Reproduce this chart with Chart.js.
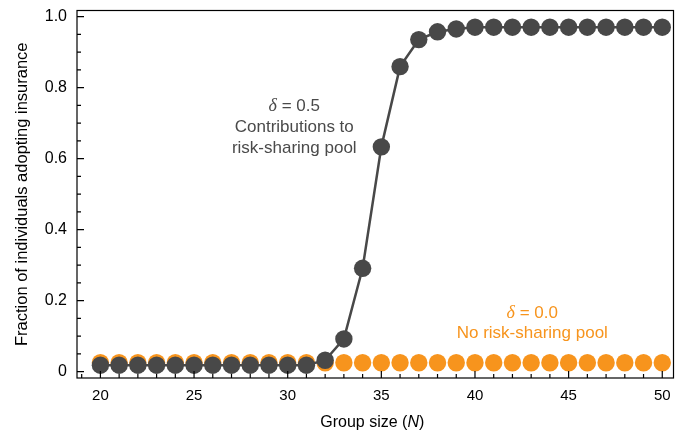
<!DOCTYPE html>
<html><head><meta charset="utf-8">
<script src="https://cdn.jsdelivr.net/npm/chart.js@4.4.1/dist/chart.umd.min.js"></script>
<style>html,body{margin:0;padding:0;background:#fff;} canvas{display:block;}</style>
</head><body>
<canvas id="c" width="684" height="433"></canvas>
<script>
// ---- data ----
const groupSizes = [20,21,22,23,24,25,26,27,28,29,30,31,32,33,34,35,36,37,38,39,40,41,42,43,44,45,46,47,48,49,50];
const withPool = [0.018,0.018,0.018,0.018,0.018,0.018,0.018,0.018,0.018,0.018,0.018,0.018,
                  0.032,0.092,0.291,0.633,0.859,0.935,0.957,0.965,
                  0.970,0.970,0.970,0.970,0.970,0.970,0.970,0.970,0.970,0.970,0.970];
const noPool = [0.025,0.025,0.025,0.025,0.025,0.025,0.025,0.025,0.025,0.025,0.025,0.025,
                0.025,0.025,0.025,0.025,0.025,0.025,0.025,0.025,0.025,0.025,0.025,0.025,
                0.025,0.025,0.025,0.025,0.025,0.025,0.025];
const xTickValues = [20,25,30,35,40,45,50];
const yTickValues = [0,0.2,0.4,0.6,0.8,1.0];
const yTickLabels = ['0','0.2','0.4','0.6','0.8','1.0'];

const DARK = '#484848';
const ORANGE = '#f7941d';
const SANS = '"Liberation Sans", Arial, Helvetica, sans-serif';
const SERIF = '"Liberation Serif", "Times New Roman", serif';

function drawMixed(ctx, parts, cx, cy, color) {
  let total = 0;
  parts.forEach(p => { ctx.font = p.f; p.w = ctx.measureText(p.t).width; total += p.w; });
  let x = cx - total / 2;
  ctx.fillStyle = color;
  ctx.textBaseline = 'middle';
  ctx.textAlign = 'left';
  parts.forEach(p => { ctx.font = p.f; ctx.fillText(p.t, x, cy); x += p.w; });
}

const decor = {
  id: 'decor',
  afterDraw(chart) {
    const {ctx, chartArea: {left, right, top, bottom}, scales: {x, y}} = chart;
    ctx.save();
    ctx.strokeStyle = '#000';
    ctx.lineWidth = 1.2;
    ctx.strokeRect(left, top, right - left, bottom - top);
    ctx.beginPath();
    for (let v = Math.ceil(x.min); v <= x.max; v++) {
      const px = x.getPixelForValue(v);
      const len = (v % 5 === 0) ? 7 : 4;
      ctx.moveTo(px, bottom); ctx.lineTo(px, bottom - len);
    }
    for (let i = 0; i <= 20; i++) {
      const py = y.getPixelForValue(i * 0.05);
      const len = (i % 4 === 0) ? 7 : 4;
      ctx.moveTo(left, py); ctx.lineTo(left + len, py);
    }
    ctx.stroke();

    // x axis title with italic N
    drawMixed(ctx, [
      {t: 'Group size (', f: '16px ' + SANS},
      {t: 'N', f: 'italic 16px ' + SANS},
      {t: ')', f: '16px ' + SANS}
    ], (left + right) / 2 - 3, 423, '#000');

    // annotations
    const ax = x.getPixelForValue(30.35), ay = y.getPixelForValue(0.746);
    drawMixed(ctx, [{t: 'δ', f: 'italic 18px ' + SERIF}, {t: ' = 0.5', f: '17px ' + SANS}], ax, ay, '#4a4a4a');
    drawMixed(ctx, [{t: 'Contributions to', f: '17px ' + SANS}], ax, ay + 21, '#4a4a4a');
    drawMixed(ctx, [{t: 'risk-sharing pool', f: '17px ' + SANS}], ax, ay + 42, '#4a4a4a');

    const bx = x.getPixelForValue(43.06), by = y.getPixelForValue(0.164);
    drawMixed(ctx, [{t: 'δ', f: 'italic 18px ' + SERIF}, {t: ' = 0.0', f: '17px ' + SANS}], bx, by, ORANGE);
    drawMixed(ctx, [{t: 'No risk-sharing pool', f: '17px ' + SANS}], bx, by + 20, ORANGE);
    ctx.restore();
  }
};

new Chart(document.getElementById('c'), {
  type: 'scatter',
  data: {
    datasets: [
      {
        label: 'δ = 0.5',
        data: groupSizes.map((n, i) => ({x: n, y: withPool[i]})),
        showLine: true,
        borderColor: DARK,
        borderWidth: 2.5,
        backgroundColor: DARK,
        pointBackgroundColor: DARK,
        pointBorderWidth: 0,
        pointRadius: 8.7,
        pointHoverRadius: 8.7,
        tension: 0
      },
      {
        label: 'δ = 0.0',
        data: groupSizes.map((n, i) => ({x: n, y: noPool[i]})),
        showLine: false,
        backgroundColor: ORANGE,
        pointBackgroundColor: ORANGE,
        pointBorderWidth: 0,
        pointRadius: 8.7,
        pointHoverRadius: 8.7
      }
    ]
  },
  options: {
    responsive: false,
    animation: false,
    events: [],
    clip: false,
    layout: {padding: {top: 10.5, right: 10.5, left: 0, bottom: 0}},
    plugins: {legend: {display: false}, tooltip: {enabled: false}},
    scales: {
      x: {
        type: 'linear',
        min: 18.75, max: 50.6,
        grid: {display: false, drawTicks: false},
        border: {display: false},
        afterBuildTicks: s => { s.ticks = xTickValues.map(v => ({value: v})); },
        afterFit: s => { s.height = 55; s.paddingLeft = 0; s.paddingRight = 0; },
        ticks: {
          color: '#000', padding: 9,
          font: {family: SANS, size: 15},
          maxRotation: 0, autoSkip: false,
          callback: v => String(v)
        }
      },
      y: {
        min: -0.018, max: 1.017,
        grid: {display: false, drawTicks: false},
        border: {display: false},
        afterBuildTicks: s => { s.ticks = yTickValues.map(v => ({value: v})); },
        afterFit: s => { s.width = 77; s.paddingTop = 0; s.paddingBottom = 0; },
        ticks: {
          color: '#000', padding: 10,
          font: {family: SANS, size: 16},
          autoSkip: false,
          callback: v => yTickLabels[yTickValues.indexOf(v)]
        },
        title: {
          display: true,
          text: 'Fraction of individuals adopting insurance',
          color: '#000',
          font: {family: SANS, size: 16.5},
          padding: {top: 13, bottom: 0}
        }
      }
    }
  },
  plugins: [decor]
});
</script>
</body></html>
